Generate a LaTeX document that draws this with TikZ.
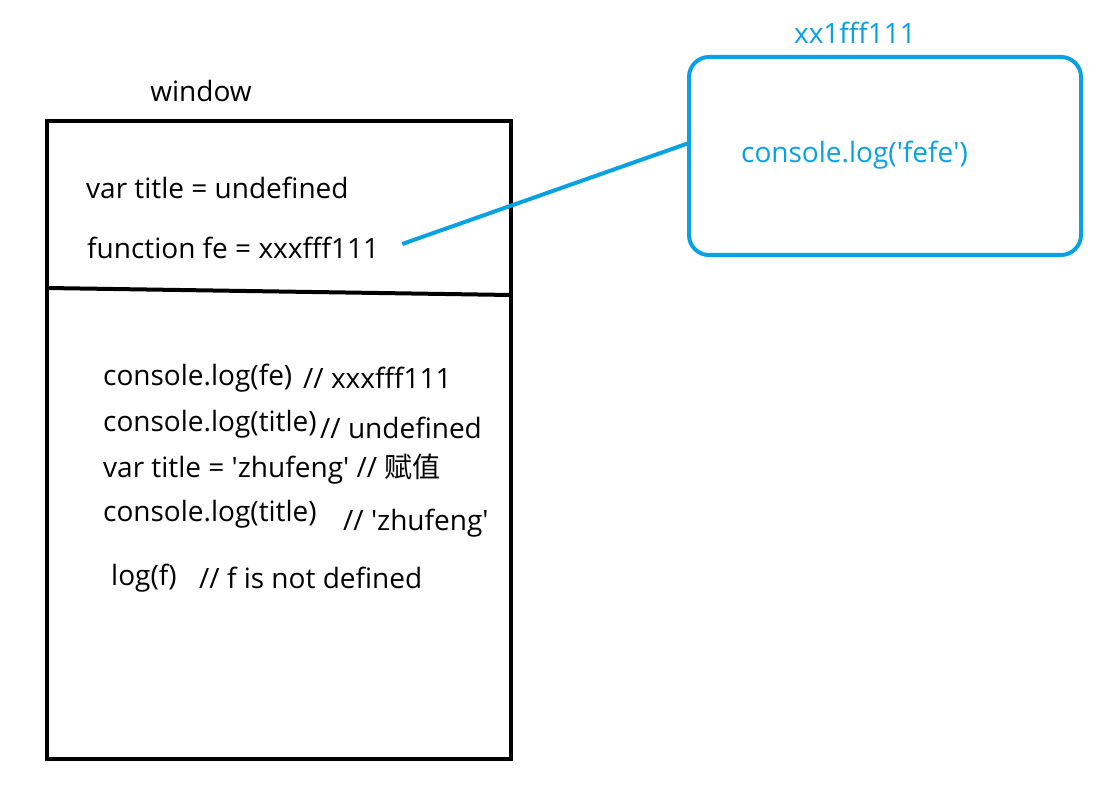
\documentclass[tikz,border=0pt]{standalone}
\usepackage{fontspec}
\setmainfont{Open Sans}
\newfontfamily\cjk{Noto Sans CJK SC}
\usepackage{tikz}

\definecolor{heapblue}{RGB}{8,162,228}
\newcommand{\q}{\textquotesingle}
\tikzset{
  code/.style={anchor=west, inner sep=0pt, font=\fontsize{28}{32}\selectfont},
  heapcode/.style={code, text=heapblue},
}

\begin{document}
\begin{tikzpicture}[x=1pt, y=-1pt]
        \useasboundingbox (0,0) rectangle (1113,799);
        \draw [line width=4pt]  (47,121) rectangle (511,759);        %window
        \draw [line width=4pt]  (47,288) -- (511,295);               %
        \node (win)   at (201,91)  [code, anchor=center] {window};   %
        \node (vt)    at (86,188)  [code] {var title = undefined};   %
        \node (fe)    at (87,248)  [code] {function fe = xxxfff111}; %

        \node (l1)    at (103,378) [code] {console.log(fe)};         %
        \node (c1)    at (303,378) [code] {// xxxfff111};            %
        \node (l2)    at (103,424) [code] {console.log(title)};      %
        \node (c2)    at (320,428) [code] {// undefined};            %
        \node (l3)    at (103,469) [code] {var title = \q zhufeng\q{} // {\cjk 赋值}};
        \node (l4)    at (103,514) [code] {console.log(title)};      %
        \node (c4)    at (343,523) [code] {// \q zhufeng\q};         %
        \node (l5)    at (111,578) [code] {log(f)};                  %
        \node (c5)    at (199,578) [code] {// f is not defined};     %

        \draw [heapblue, line width=4pt, rounded corners=20pt]
              (689,57) rectangle (1081,255);                         %heap
        \node (addr)  at (855,33)  [heapcode, anchor=center] {xx1fff111};
        \node (body)  at (741,155) [heapcode] {console.log(\q fefe\q)};
        \coordinate (heapin) at (689,143);                           %
        \draw [heapblue, line width=4pt] ([xshift=23pt, yshift=4pt]fe.east) -- (heapin);
      \end{tikzpicture}
\end{document}
